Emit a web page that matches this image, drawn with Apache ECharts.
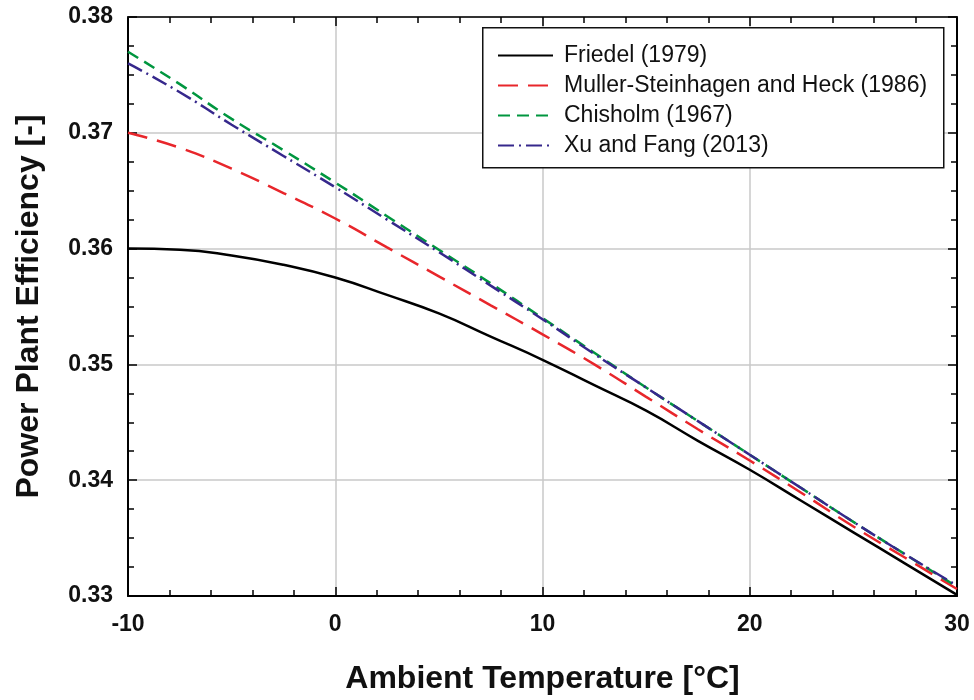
<!DOCTYPE html>
<html>
<head>
<meta charset="utf-8">
<script src="https://cdn.jsdelivr.net/npm/echarts@6/dist/echarts.min.js"></script>
<style>
  html, body { margin: 0; padding: 0; background: #fff; }
  #main { width: 974px; height: 700px; }
</style>
</head>
<body>
<div id="main"></div>
<script>
// ambient temperature samples (°C)
const temps = [-10, -7.5, -5, -2.5, 0, 2.5, 5, 7.5, 10, 12.5, 15, 17.5, 20, 22.5, 25, 27.5, 30]

// efficiency
const friedel = [0.3600, 0.3599, 0.3594, 0.3586, 0.3575, 0.3560, 0.3544, 0.3524, 0.3504, 0.3482, 0.3460, 0.3434, 0.3409, 0.3382, 0.3355, 0.3328, 0.3301]
const mullerHeck = [0.3700, 0.3687, 0.3669, 0.3648, 0.3626, 0.3601, 0.3576, 0.3551, 0.3526, 0.3500, 0.3472, 0.3444, 0.3417, 0.3389, 0.3360, 0.3333, 0.3306]
const chisholm = [0.3770, 0.3742, 0.3712, 0.3685, 0.3657, 0.3628, 0.3599, 0.3570, 0.3540, 0.3510, 0.3480, 0.3451, 0.3422, 0.3393, 0.3364, 0.3336, 0.3308]
const xuFang = [0.3760, 0.3735, 0.3707, 0.3680, 0.3653, 0.3625, 0.3597, 0.3568, 0.3539, 0.3509, 0.3480, 0.3451, 0.3422, 0.3393, 0.3364, 0.3336, 0.3309]

const seriesNames = ['Friedel (1979)', 'Muller-Steinhagen and Heck (1986)', 'Chisholm (1967)', 'Xu and Fang (2013)']

const font = "'Liberation Sans', Arial, sans-serif"

function pairs(vals) {
    return temps.map((t, i) => [t, vals[i]])
}

function mkLine(name, vals, color, type) {
    return {
        name: name,
        type: 'line',
        smooth: true,
        symbol: 'none',
        z: 3,
        lineStyle: { color: color, width: 2.5, type: type },
        itemStyle: { color: color },
        data: pairs(vals)
    }
}

const tickStyle = { show: true, inside: true, length: 9, lineStyle: { color: '#000', width: 1.5 } }
const minorStyle = { show: true, splitNumber: 5, length: 6, lineStyle: { color: '#000', width: 1.5 } }
const yMinorStyle = { show: true, splitNumber: 4, length: 6, lineStyle: { color: '#000', width: 1.5 } }

const chart = echarts.init(document.getElementById('main'))
chart.setOption({
    animation: false,
    backgroundColor: '#fff',
    grid: { left: 128, right: 17, top: 17, bottom: 103 },
    legend: {
        data: seriesNames,
        orient: 'vertical',
        left: 497,
        top: 44,
        z: 10,
        padding: 0,
        itemWidth: 55,
        itemHeight: 20,
        itemGap: 7,
        itemStyle: { opacity: 0 },
        textStyle: { fontFamily: font, fontSize: 23, color: '#111', lineHeight: 20, padding: [0, 0, 0, 6] }
    },
    graphic: [{
        type: 'rect',
        left: 482,
        top: 27,
        z: 8,
        shape: { width: 461, height: 140 },
        style: { fill: '#fff', stroke: '#111', lineWidth: 1.5 }
    }],
    xAxis: [{
        type: 'value',
        min: -10,
        max: 30,
        interval: 10,
        name: 'Ambient Temperature [°C]',
        nameLocation: 'middle',
        nameGap: 67,
        nameTextStyle: { fontFamily: font, fontSize: 32, fontWeight: 'bold', color: '#111' },
        axisLine: { onZero: false, lineStyle: { color: '#000', width: 2 } },
        axisTick: tickStyle,
        minorTick: minorStyle,
        axisLabel: { margin: 17, fontFamily: font, fontSize: 23, fontWeight: 'bold', color: '#111' },
        splitLine: { show: true, lineStyle: { color: '#c8c8c8', width: 1.5 } }
    }, {
        type: 'value',
        position: 'top',
        min: -10,
        max: 30,
        interval: 10,
        axisLine: { onZero: false, lineStyle: { color: '#333', width: 2 } },
        axisTick: tickStyle,
        minorTick: minorStyle,
        axisLabel: { show: false },
        splitLine: { show: false }
    }],
    yAxis: [{
        type: 'value',
        min: 0.33,
        max: 0.38,
        interval: 0.01,
        name: 'Power Plant Efficiency [-]',
        nameLocation: 'middle',
        nameGap: 83,
        nameTextStyle: { fontFamily: font, fontSize: 32, fontWeight: 'bold', color: '#111' },
        axisLine: { onZero: false, lineStyle: { color: '#000', width: 2 } },
        axisTick: tickStyle,
        minorTick: yMinorStyle,
        axisLabel: {
            margin: 15,
            fontFamily: font,
            fontSize: 23,
            fontWeight: 'bold',
            color: '#111',
            formatter: v => v.toFixed(2)
        },
        splitLine: { show: true, lineStyle: { color: '#c8c8c8', width: 1.5 } }
    }, {
        type: 'value',
        position: 'right',
        min: 0.33,
        max: 0.38,
        interval: 0.01,
        axisLine: { onZero: false, lineStyle: { color: '#000', width: 2 } },
        axisTick: tickStyle,
        minorTick: yMinorStyle,
        axisLabel: { show: false },
        splitLine: { show: false }
    }],
    series: [
        mkLine(seriesNames[0], friedel, '#000000', 'solid'),
        mkLine(seriesNames[1], mullerHeck, '#e8262b', [20, 10]),
        mkLine(seriesNames[2], chisholm, '#00963f', [12, 7]),
        mkLine(seriesNames[3], xuFang, '#36288c', [16, 5, 2, 5])
    ]
})
</script>
</body>
</html>
